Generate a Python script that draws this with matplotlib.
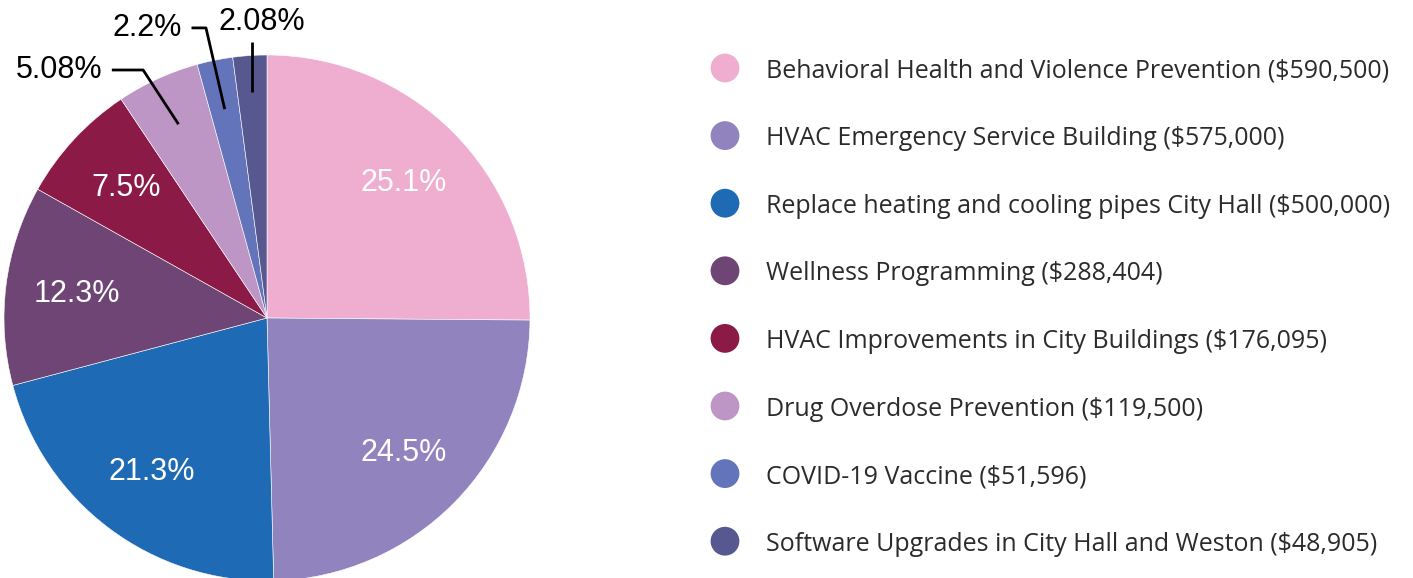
"""Pie chart of project allocations with a custom legend on the right."""

import numpy as np
import matplotlib
matplotlib.use("Agg")
import matplotlib.pyplot as plt

projects = [
    "Behavioral Health and Violence Prevention",
    "HVAC Emergency Service Building",
    "Replace heating and cooling pipes City Hall",
    "Wellness Programming",
    "HVAC Improvements in City Buildings",
    "Drug Overdose Prevention",
    "COVID-19 Vaccine",
    "Software Upgrades in City Hall and Weston",
]
amounts = [590500, 575000, 500000, 288404, 176095, 119500, 51596, 48905]
pct_labels = ["25.1%", "24.5%", "21.3%", "12.3%", "7.5%", "5.08%", "2.2%", "2.08%"]
colors = ["#EFAED0", "#9083BE", "#1F6AB4", "#6E4574", "#8B1A47", "#BE96C6", "#6474BA", "#575890"]

W, H = 1413, 578
fig = plt.figure(figsize=(W / 100, H / 100), dpi=100)

# pie: centre at (267, 318) px from top-left, radius 263 px
R = 263
cx, cy = 267, H - 318
ax = fig.add_axes([(cx - R) / W, (cy - R) / H, 2 * R / W, 2 * R / H])
wedges, _ = ax.pie(
    amounts,
    colors=colors,
    startangle=90,
    counterclock=False,
    radius=1,
    wedgeprops={"edgecolor": "white", "linewidth": 0.4},
)
ax.set_xlim(-1, 1)
ax.set_ylim(-1, 1)
ax.set_aspect("equal")
ax.axis("off")

pie_font = {"family": "Liberation Sans", "size": 22}

# big slices: white labels inside
for w, lab in zip(wedges[:5], pct_labels[:5]):
    mid = np.deg2rad((w.theta1 + w.theta2) / 2)
    ax.text(0.73 * np.cos(mid), 0.73 * np.sin(mid), lab, color="white",
            ha="center", va="center", fontdict=pie_font)

# small slices: outside labels with leader lines
# (anchor radius, elbow xy, text xy, ha)
callouts = [
    (0.81, (-0.471, 0.943), (-0.625, 0.943), "right"),
    (0.81, (-0.232, 1.103), (-0.322, 1.103), "right"),
    (0.86, None, (-0.019, 1.125), "center"),
]
for w, lab, (r, elbow, txt, ha) in zip(wedges[5:], pct_labels[5:], callouts):
    mid = np.deg2rad((w.theta1 + w.theta2) / 2)
    px, py = r * np.cos(mid), r * np.sin(mid)
    if elbow is None:
        xs, ys = [px, px], [py, 1.05]
    else:
        xs = [txt[0] + 0.035, elbow[0], px]
        ys = [elbow[1], elbow[1], py]
    ax.plot(xs, ys, color="black", lw=2, clip_on=False, solid_capstyle="butt")
    ax.text(txt[0], txt[1], lab, ha=ha, va="center", fontdict=pie_font, clip_on=False)

# legend drawn in pixel coordinates
lax = fig.add_axes([0, 0, 1, 1])
lax.set_xlim(0, W)
lax.set_ylim(H, 0)
lax.axis("off")
row0, step = 68, 67.6
for i, (name, amt, c) in enumerate(zip(projects, amounts, colors)):
    y = row0 + i * step
    lax.scatter([725], [y], s=430, color=c, edgecolors="none")
    lax.text(766, y + 3, f"{name} (${amt:,})", ha="left", va="center",
             family="Open Sans", size=18, color="#2b2b2b")

fig.savefig("out.png", dpi=100)
